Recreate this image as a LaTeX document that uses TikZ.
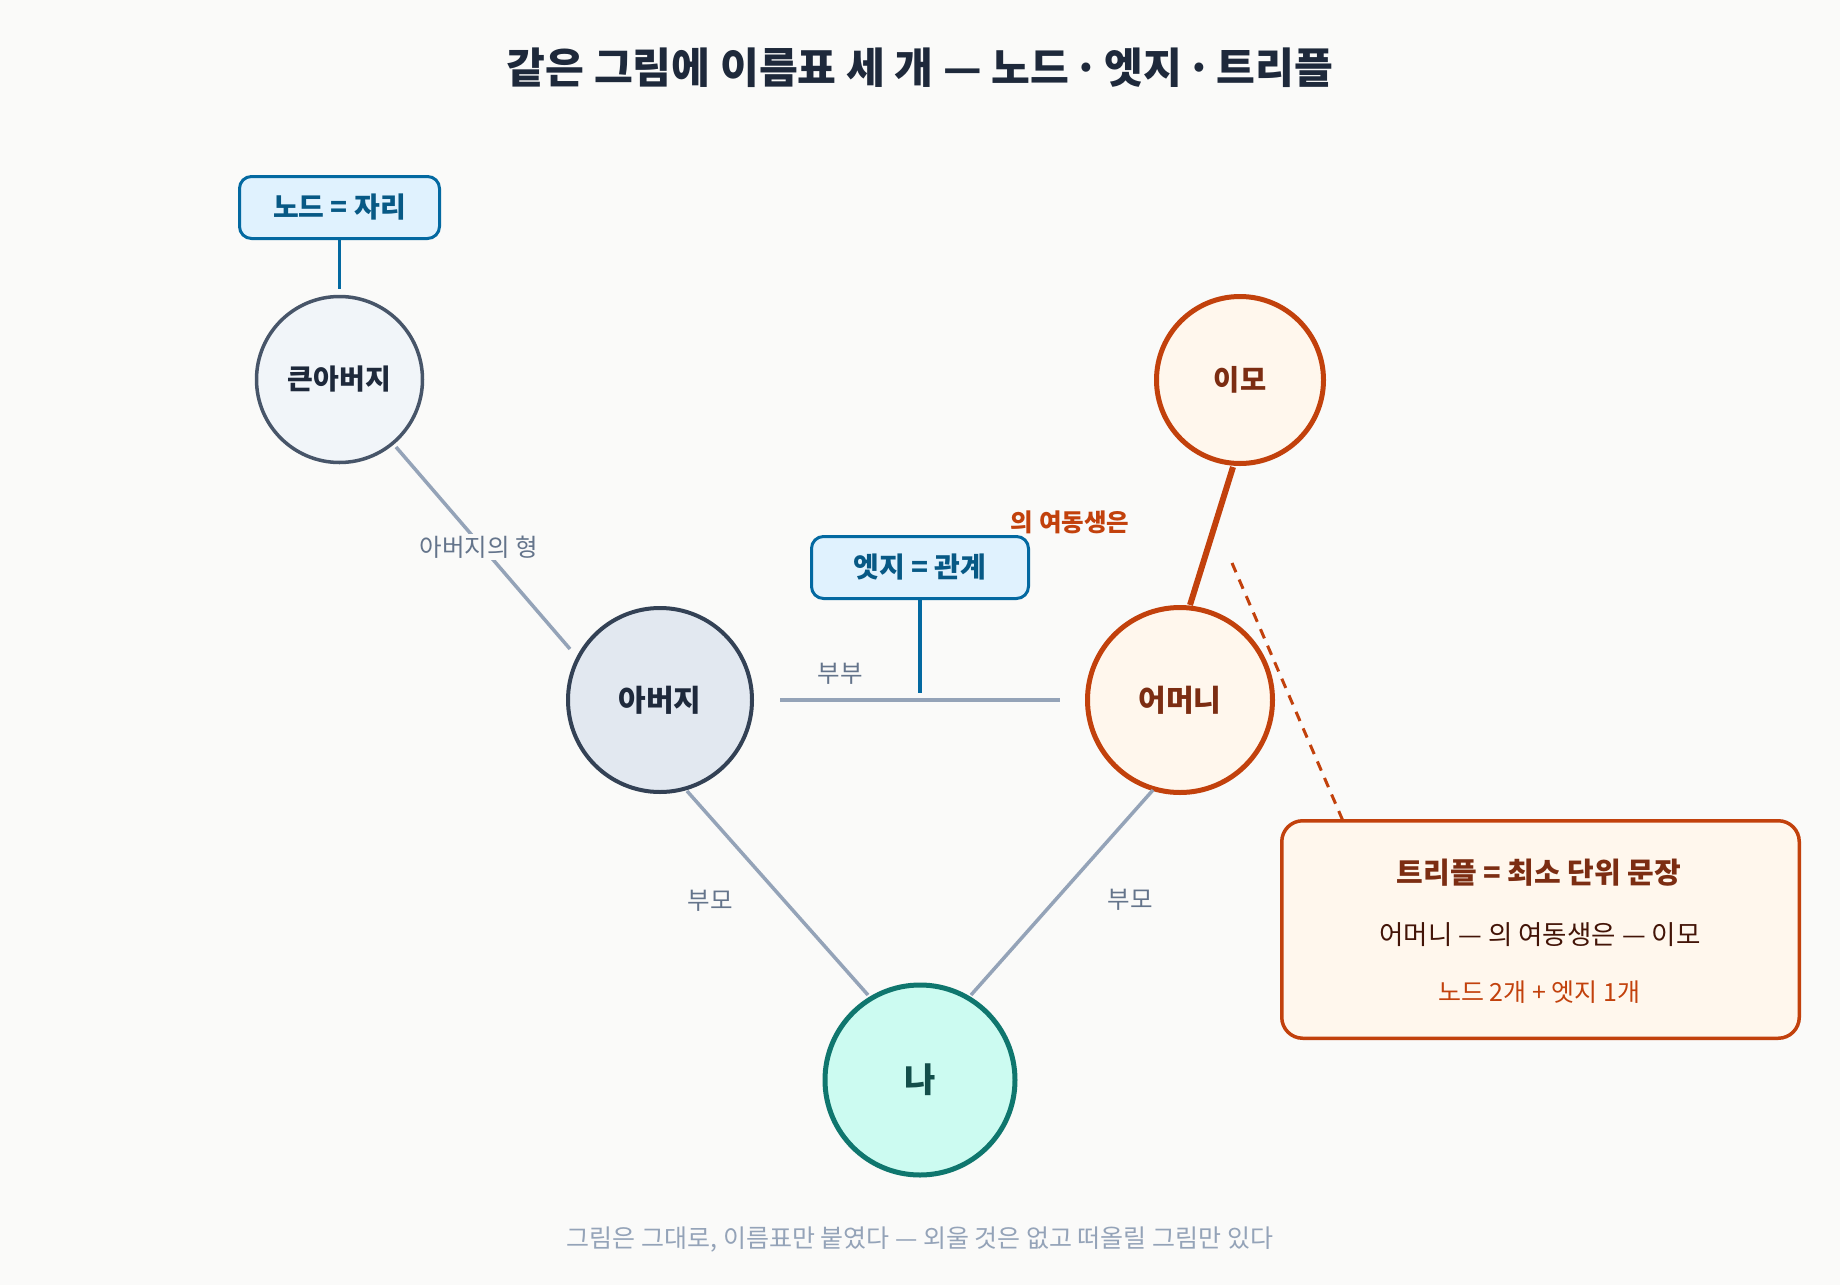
\documentclass[tikz,border=0pt]{standalone}
\usepackage{fontspec}
\setmainfont{Noto Sans CJK KR}
\usetikzlibrary{calc}
\definecolor{bg}{HTML}{FAFAF9}
\definecolor{slateA}{HTML}{1E293B}
\definecolor{slateB}{HTML}{334155}
\definecolor{slateC}{HTML}{475569}
\definecolor{slateD}{HTML}{64748B}
\definecolor{slateE}{HTML}{94A3B8}
\definecolor{slateF}{HTML}{E2E8F0}
\definecolor{slateG}{HTML}{F1F5F9}
\definecolor{orA}{HTML}{C2410C}
\definecolor{orB}{HTML}{7C2D12}
\definecolor{orC}{HTML}{FFF7ED}
\definecolor{orD}{HTML}{431407}
\definecolor{tealA}{HTML}{0F766E}
\definecolor{tealB}{HTML}{CCFBF1}
\definecolor{tealC}{HTML}{134E4A}
\definecolor{blueA}{HTML}{0369A1}
\definecolor{blueB}{HTML}{E0F2FE}
\definecolor{blueC}{HTML}{075985}
\newcommand\pxsize[1]{\fontsize{#1}{#1}\selectfont}
\newcommand\narrowdot{\kern-0.12em·\kern-0.12em}
\begin{document}
\begin{tikzpicture}[x=1pt,y=-1pt,
  person/.style={circle, inner sep=0pt, align=center},
  edgeline/.style={draw=slateE, line width=3.5pt},
  elabel/.style={text=slateD, font=\pxsize{24.5}, inner sep=2pt},
  tagbox/.style={draw=blueA, fill=blueB, line width=3pt, rounded corners=12pt,
    text=blueC, font=\pxsize{28}\bfseries, inner sep=0pt},
  tagline/.style={draw=blueA, line width=3.5pt}]
\useasboundingbox (0,0) rectangle (1840,1285);
\fill[bg] (0,0) rectangle (1840,1285);

% title
\node[text=slateA, font=\pxsize{42.2}\bfseries] (title) at (920,68) {같은 그림에 이름표 세 개 — 노드 \narrowdot{} 엣지 \narrowdot{} 트리플};

% persons
\node[person, draw=slateC, fill=slateG, line width=3.5pt, minimum size=166pt,
  text=slateA, font=\pxsize{28}\bfseries] (kun) at (339.5,379.5) {큰아버지};
\node[person, draw=slateB, fill=slateF, line width=4pt, minimum size=184pt,
  text=slateA, font=\pxsize{30}\bfseries] (abeoji) at (660,700) {아버지};
\node[person, draw=orA, fill=orC, line width=5pt, minimum size=185pt,
  text=orB, font=\pxsize{30}\bfseries] (eomeoni) at (1180,700) {어머니};
\node[person, draw=orA, fill=orC, line width=5pt, minimum size=167pt,
  text=orB, font=\pxsize{28.5}\bfseries] (imo) at (1240,380) {이모};
\node[person, draw=tealA, fill=tealB, line width=5pt, minimum size=190pt,
  text=tealC, font=\pxsize{34}\bfseries] (na) at (920,1080) {나};

% edges
\draw[edgeline] ($(kun)+(56.5,67.5)$) -- ($(abeoji)+(-90,-51)$);
\node[elabel, fill=bg] (lhyung) at (479,547) {아버지의 형};
\draw[edgeline] ($(abeoji)+(27,91)$) -- ($(na)+(-52,-85)$);
\node[elabel] (lbumo1) at (710,901) {부모};
\draw[edgeline] ($(eomeoni)+(-27,90)$) -- ($(na)+(51,-85)$);
\node[elabel] (lbumo2) at (1130,900) {부모};
\coordinate (spousemid) at ($(abeoji)!0.5!(eomeoni)$);
\draw[edgeline] ($(abeoji)+(120,0)$) -- ($(eomeoni)+(-120,0)$);
\node[elabel] (lbubu) at (840,674) {부부};

% triple edge
\draw[draw=orA, line width=6pt] ($(imo)+(-7,87)$) -- ($(eomeoni)+(10,-95)$);
\node[text=orA, font=\pxsize{24.5}\bfseries] (lsister) at (1070,522) {의 여동생은};

% tags
\node[tagbox, minimum width=200pt, minimum height=62pt] (nodetag) at (339.5,207.5) {노드 = 자리};
\draw[tagline] (nodetag.south) -- ($(kun.north)+(0,-6)$);
\node[tagbox, minimum width=217pt, minimum height=62pt] (edgetag) at (920,567.5) {엣지 = 관계};
\draw[tagline] (edgetag.south) -- ($(spousemid)+(0,-7)$);

% triple callout
\coordinate (calloutstart) at (1232,563);
\draw[draw=orA, line width=3pt, dash pattern=on 10pt off 8pt] (calloutstart) -- (1343,821);
\node[draw=orA, fill=orC, line width=3.5pt, rounded corners=21pt,
  minimum width=517.5pt, minimum height=217.5pt, inner sep=0pt] (triple) at (1540.5,929.5) {};
\node[text=orB, font=\pxsize{29}\bfseries] (ttitle) at (1539,873) {트리플 = 최소 단위 문장};
\node[text=orD, font=\pxsize{26.5}] (tline) at (1540,935) {어머니 — 의 여동생은 — 이모};
\node[text=orA, font=\pxsize{25}] (tcount) at (1539,992) {노드 2개 + 엣지 1개};

% footer
\node[text=slateE, font=\pxsize{25}] (footer) at (920,1240) {그림은 그대로, 이름표만 붙였다 — 외울 것은 없고 떠올릴 그림만 있다};
\end{tikzpicture}
\end{document}
